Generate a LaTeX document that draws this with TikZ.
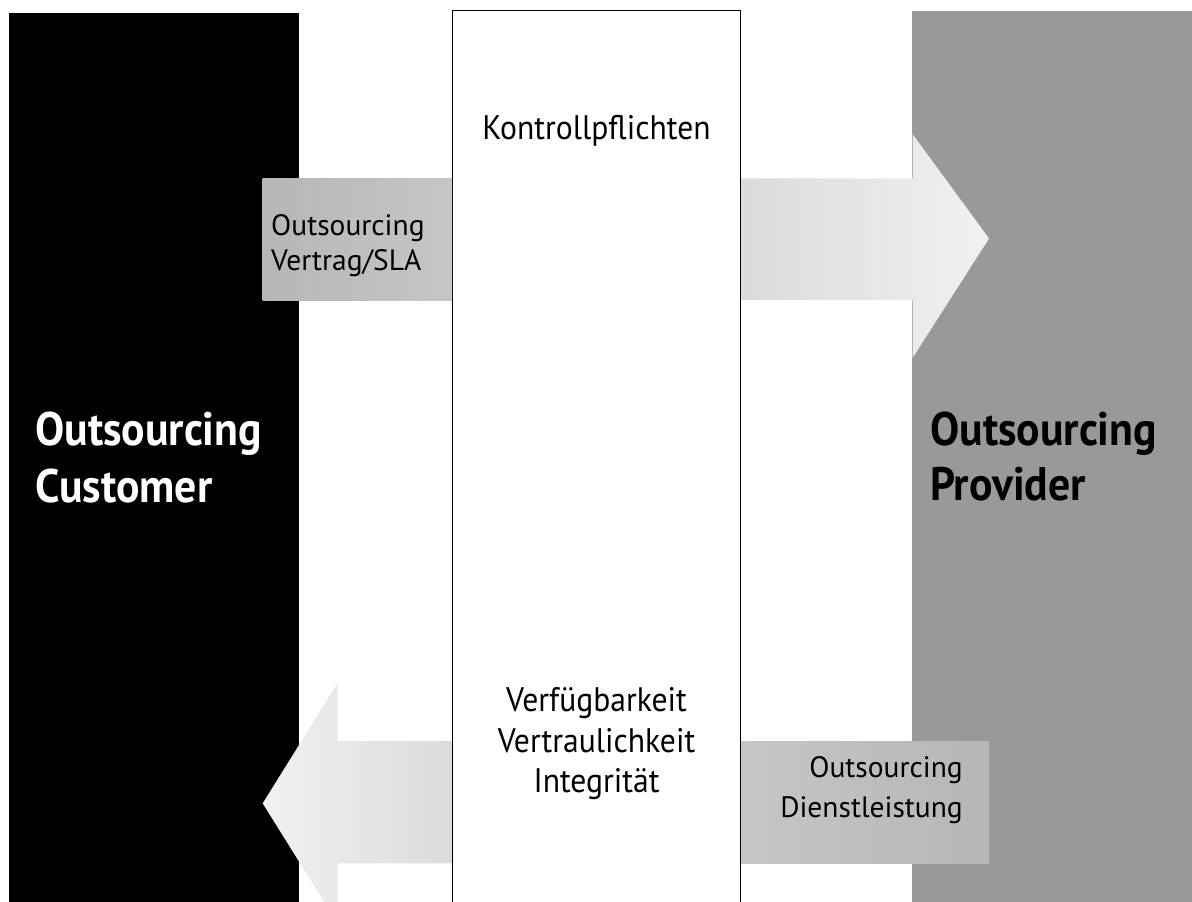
\documentclass[tikz,border=0pt]{standalone}
\usepackage{fontspec}
\setmainfont{PT Sans}
\newfontfamily\narrowfont{PT Sans}[FakeStretch=0.93]
\definecolor{provgray}{HTML}{999999}
\definecolor{boxdark}{HTML}{B6B6B6}
\definecolor{boxlight}{HTML}{C6C6C6}
\definecolor{arrowdark}{HTML}{DBDBDB}
\definecolor{arrowlight}{HTML}{F1F1F1}
\tikzset{
  headtxt/.style={inner sep=0pt, font=\narrowfont\fontsize{47}{56}\selectfont\bfseries},
  bodytxt/.style={inner sep=0pt, font=\narrowfont\fontsize{34}{41}\selectfont},
  smalltxt/.style={inner sep=0pt, font=\fontsize{29.5}{35}\selectfont},
}
\begin{document}
\begin{tikzpicture}[x=1pt,y=-1pt]
\useasboundingbox (0,0) rectangle (1192,902);
\begin{scope}
  \clip (0,0) rectangle (1192,902);
  % the two parties
  \fill[black] (9,12.7) rectangle (299,920);
  \fill[provgray] (912,11) rectangle (1200,920);
  % middle column
  \draw[line width=1.4pt, fill=white] (452.5,920) -- (452.5,10.5) -- (740.5,10.5) -- (740.5,920);
  % contract box
  \shade[left color=boxdark, right color=boxlight] (262.5,178) rectangle (452,300);
  % arrow towards the provider
  \shade[left color=arrowdark, right color=arrowlight]
    (741.2,178.3) -- (912.5,178.3) -- (912.5,134) -- (989,238.5) -- (912.5,358)
    -- (912.5,300) -- (741.2,300) -- cycle;
  % arrow back to the customer
  \shade[left color=arrowlight, right color=arrowdark]
    (451.8,741) -- (337.5,741) -- (337.5,683.3) -- (262.7,803.3) -- (337.5,923.3)
    -- (337.5,863.3) -- (451.8,863.3) -- cycle;
  % service box
  \shade[left color=boxlight, right color=boxdark] (741.2,741) rectangle (989,863.3);
\end{scope}
% labels
\node[headtxt, white, anchor=base west] (cust1) at (35,445) {Outsourcing};
\node[headtxt, white, anchor=base west] (cust2) at (35,502) {Customer};
\node[headtxt, anchor=base west] (prov1) at (930,445) {Outsourcing};
\node[headtxt, anchor=base west] (prov2) at (930,500) {Provider};
\node[bodytxt, anchor=base] (kontr) at (596.5,139) {Kontrollpflichten};
\node[smalltxt, anchor=base west] (vt1) at (271,235) {Outsourcing};
\node[smalltxt, anchor=base west] (vt2) at (271,270) {Vertrag/SLA};
\node[smalltxt, anchor=base east] (dl1) at (963,777) {Outsourcing};
\node[smalltxt, anchor=base east] (dl2) at (963,817) {Dienstleistung};
\node[bodytxt, anchor=base] (ziel1) at (596.5,711) {Verfügbarkeit};
\node[bodytxt, anchor=base] (ziel2) at (596.5,752) {Vertraulichkeit};
\node[bodytxt, anchor=base] (ziel3) at (596.5,792) {Integrität};
\end{tikzpicture}
\end{document}
